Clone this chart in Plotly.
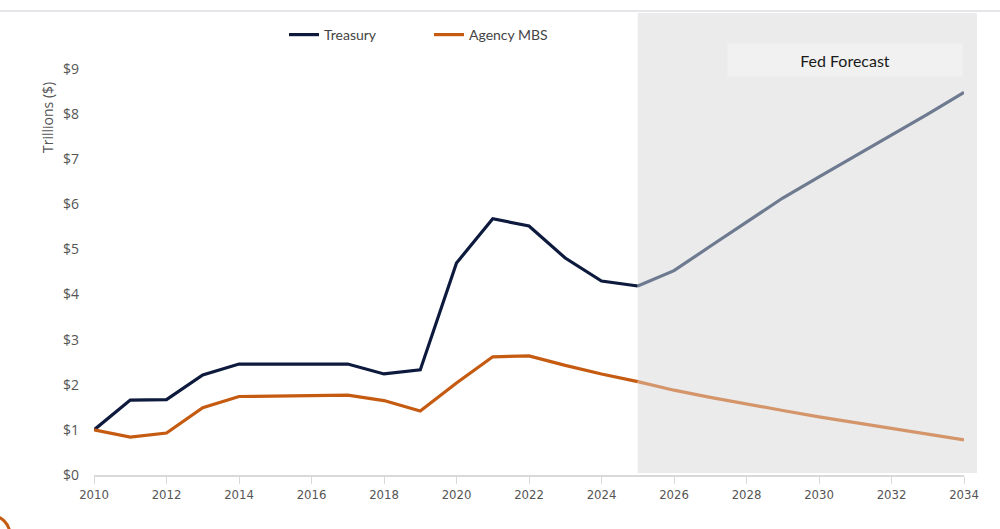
import plotly.graph_objects as go

years_hist = list(range(2010, 2026))
treasury_hist = [1.00, 1.66, 1.67, 2.22, 2.46, 2.46, 2.47, 2.46, 2.24, 2.33, 4.70, 5.68, 5.52, 4.81, 4.30, 4.19]
mbs_hist = [1.00, 0.84, 0.93, 1.49, 1.74, 1.75, 1.76, 1.77, 1.65, 1.42, 2.04, 2.62, 2.64, 2.43, 2.24, 2.07]

years_fc = list(range(2025, 2035))
treasury_fc = [4.19, 4.53, 5.07, 5.60, 6.14, 6.61, 7.07, 7.54, 8.00, 8.48]
mbs_fc = [2.07, 1.88, 1.72, 1.57, 1.43, 1.29, 1.16, 1.03, 0.91, 0.78]

x_ticks = list(range(2010, 2035, 2))
y_ticks = list(range(0, 10))
y_tick_labels = [f"${v}" for v in y_ticks]

NAVY = "#0d1a3d"
ORANGE = "#c55a11"
NAVY_FC = "#6e7a8f"
ORANGE_FC = "#d4956a"

L, R, T, B = 94, 36, 13, 54
W, H = 1000, 529
pw, ph = W - L - R, H - T - B

def px_x(p):
    return (p - L) / pw

def px_y(p):
    return (H - B - p) / ph

LW = 3.2

fig = go.Figure()
fig.add_trace(go.Scatter(x=years_hist, y=treasury_hist, mode="lines", name="Treasury",
                         line=dict(color=NAVY, width=LW)))
fig.add_trace(go.Scatter(x=years_hist, y=mbs_hist, mode="lines", name="Agency MBS",
                         line=dict(color=ORANGE, width=LW)))
fig.add_trace(go.Scatter(x=years_fc, y=treasury_fc, mode="lines", showlegend=False,
                         line=dict(color=NAVY_FC, width=LW)))
fig.add_trace(go.Scatter(x=years_fc, y=mbs_fc, mode="lines", showlegend=False,
                         line=dict(color=ORANGE_FC, width=LW)))

shapes = [
    dict(type="rect", xref="paper", yref="paper", x0=(15 / 24), x1=px_x(977), y0=px_y(473), y1=1,
         fillcolor="#ebebeb", line=dict(width=0), layer="below"),
    dict(type="line", xref="paper", yref="paper", x0=px_x(0), x1=px_x(1000), y0=px_y(11), y1=px_y(11),
         line=dict(color="#e6e6ea", width=2)),
    dict(type="circle", xref="paper", yref="paper", x0=px_x(-30), x1=px_x(10), y0=px_y(555), y1=px_y(515),
         line=dict(color=ORANGE, width=3)),
]

annotations = [
    dict(xref="paper", yref="paper", x=px_x(845), y=px_y(60), xanchor="center", yanchor="middle",
         text="Fed Forecast", showarrow=False,
         bgcolor="#f1f1f1", width=232, height=30, font=dict(family="Lato", size=16, color="#1a1a1a")),
    dict(xref="paper", yref="paper", x=px_x(47), y=px_y(118), xanchor="center", yanchor="middle",
         text="Trillions ($)", showarrow=False,
         textangle=-90, font=dict(family="Open Sans", size=14, color="#555555")),
]

fig.update_layout(
    width=W, height=H,
    margin=dict(l=L, r=R, t=T, b=B),
    paper_bgcolor="white", plot_bgcolor="white",
    shapes=shapes, annotations=annotations,
    showlegend=True,
    legend=dict(orientation="h", x=px_x(284), y=px_y(35), xanchor="left", yanchor="middle",
                font=dict(family="Lato", size=14, color="#444444"),
                bgcolor="rgba(0,0,0,0)", entrywidth=100, entrywidthmode="pixels"),
    xaxis=dict(range=[2010, 2034], tickvals=x_ticks, ticktext=[str(v) for v in x_ticks],
               showgrid=False, zeroline=False, showline=True, linecolor="#d9d9d9", linewidth=1.5,
               ticks="outside", ticklen=7, tickcolor="#d9d9d9",
               tickfont=dict(family="DejaVu Sans Condensed, Liberation Sans, sans-serif", size=13, color="#555555")),
    yaxis=dict(range=[0, (H - B - T) / 45.11], tickvals=y_ticks, ticktext=y_tick_labels,
               showgrid=False, zeroline=False, showline=False, ticks="", ticklabelstandoff=14,
               tickfont=dict(family="Open Sans", size=14, color="#555555")),
)

fig.write_html("out.html")
